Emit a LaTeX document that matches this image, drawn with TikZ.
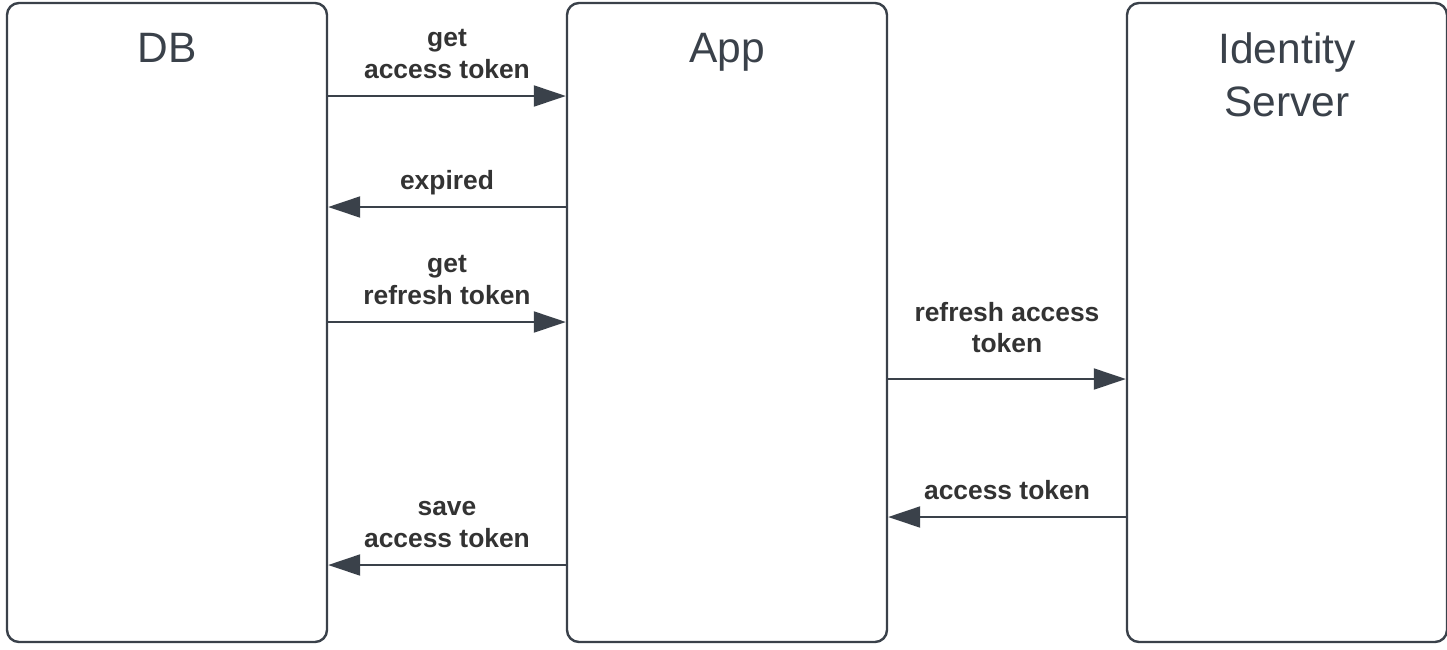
\documentclass[tikz,border=0pt]{standalone}
\usepackage{fontspec}
\setmainfont{Liberation Sans}
\usetikzlibrary{arrows.meta}
\definecolor{edge}{HTML}{3A414A}
\definecolor{lbl}{HTML}{333333}
\tikzset{
  lane/.style={draw=edge, line width=2.4pt, rounded corners=12pt, minimum width=320pt, minimum height=639pt, inner sep=0pt},
  title/.style={text=edge, font=\fontsize{42.5}{53}\selectfont, align=center, inner sep=0pt},
  msg/.style={draw=edge, line width=2pt, -{Triangle[length=32pt, width=21pt]}},
  lab/.style={text=lbl, font=\bfseries\fontsize{26.4}{31.5}\selectfont, align=center, inner sep=0pt}
}
\begin{document}
\begin{tikzpicture}[x=1pt, y=-1pt]
\useasboundingbox (0,0) rectangle (1447,649);
\node[lane] (db) at (167,322.5) {};
\node[lane] (app) at (727,322.5) {};
\node[lane] (ids) at (1287,322.5) {};
\node[title] (dbt) at (167,48) {DB};
\node[title] (appt) at (727,52) {App};
\node[title] (idst) at (1287,74.5) {Identity\\Server};
% messages
\coordinate (y1) at (0,96);
\coordinate (y2) at (0,207);
\coordinate (y3) at (0,322);
\coordinate (y4) at (0,379);
\coordinate (y5) at (0,517);
\coordinate (y6) at (0,565);
\draw[msg] (db.east |- y1) -- (app.west |- y1);
\draw[msg] (app.west |- y2) -- (db.east |- y2);
\draw[msg] (db.east |- y3) -- (app.west |- y3);
\draw[msg] (app.east |- y4) -- (ids.west |- y4);
\draw[msg] (ids.west |- y5) -- (app.east |- y5);
\draw[msg] (app.west |- y6) -- (db.east |- y6);
\node[lab] (l1) at (447,54) {get\\access token};
\node[lab] (l2) at (447,183) {expired};
\node[lab] (l3) at (447,280) {get\\refresh token};
\node[lab] (l4) at (1007,327.5) {refresh access\\token};
\node[lab] (l5) at (1007,490) {access token};
\node[lab] (l6) at (447,524.5) {save\\access token};
\end{tikzpicture}
\end{document}
